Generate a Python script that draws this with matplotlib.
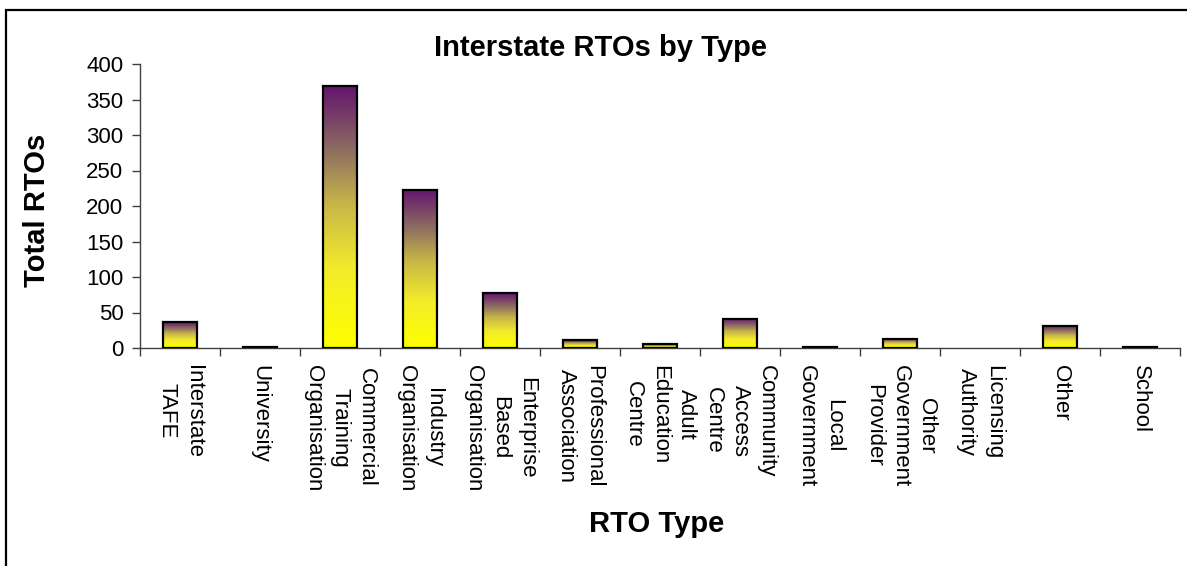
import numpy as np
import matplotlib
matplotlib.use("Agg")
import matplotlib.pyplot as plt
from matplotlib.colors import LinearSegmentedColormap
from matplotlib.patches import Rectangle

plt.rcParams['font.family'] = ['Liberation Sans', 'DejaVu Sans']

# ---- data ----
rto_types = ["Interstate\nTAFE", "University", "Commercial\nTraining\nOrganisation",
             "Industry\nOrganisation", "Enterprise\nBased\nOrganisation",
             "Professional\nAssociation", "Adult\nEducation\nCentre",
             "Community\nAccess\nCentre", "Local\nGovernment",
             "Other\nGovernment\nProvider", "Licensing\nAuthority", "Other", "School"]
total_rtos = [36, 2, 369, 223, 77, 11, 5, 41, 2, 13, 0, 31, 2]
y_ticks = [0, 50, 100, 150, 200, 250, 300, 350, 400]

W, H = 1187, 566
fig = plt.figure(figsize=(W / 100, H / 100), dpi=100)
ax = fig.add_axes([140 / W, 1 - 348 / H, (1180 - 140) / W, (348 - 64) / H])

# yellow -> purple gradient, like the old Excel fill
grad = LinearSegmentedColormap.from_list(
    "ylpu", [(0.0, "#ffff00"), (0.3, "#f2ec2a"), (0.55, "#c8b648"),
             (0.75, "#8f7060"), (1.0, "#64146e")])
ramp = np.linspace(0, 1, 256).reshape(-1, 1)

x = np.arange(len(rto_types))
edge = ["black" if v > 0 else "none" for v in total_rtos]
bars = ax.bar(x, total_rtos, width=0.42, facecolor="none",
              edgecolor=edge, linewidth=1.6, zorder=3)
for b in bars:
    h = b.get_height()
    if h <= 0:
        continue
    x0 = b.get_x()
    ax.imshow(ramp, cmap=grad, origin="lower", aspect="auto",
              extent=(x0, x0 + b.get_width(), 0, h), zorder=2)

ax.set_xlim(-0.5, len(rto_types) - 0.5)
ax.set_ylim(0, 400)
ax.set_yticks(y_ticks)
ax.tick_params(axis="y", labelsize=16, length=6, width=1, color="#404040", pad=6)

ax.set_xticks(x)
ax.set_xticklabels(rto_types, rotation=270, fontsize=16, linespacing=1.35)
ax.tick_params(axis="x", which="major", length=0, pad=12)
ax.set_xticks(np.arange(len(rto_types) + 1) - 0.5, minor=True)
ax.tick_params(axis="x", which="minor", length=6, width=1, color="#404040")

for s in ["top", "right"]:
    ax.spines[s].set_visible(False)
for s in ["left", "bottom"]:
    ax.spines[s].set_color("#404040")
    ax.spines[s].set_linewidth(1)

fig.text(601 / W, 1 - 48 / H, "Interstate RTOs by Type", ha="center", va="center",
         fontsize=21, fontweight="bold")
fig.text(37 / W, 1 - 210 / H, "Total RTOs", ha="center", va="center",
         rotation=90, fontsize=21, fontweight="bold")
fig.text(657 / W, 1 - 524 / H, "RTO Type", ha="center", va="center",
         fontsize=21, fontweight="bold")

# outer chart border (only top and left are inside the picture)
fig.add_artist(Rectangle((5.5 / W, -0.2), 1.2, 1.2 - 9.5 / H,
                         transform=fig.transFigure, fill=False,
                         edgecolor="black", linewidth=1.6))

fig.savefig("out.png", dpi=100)
